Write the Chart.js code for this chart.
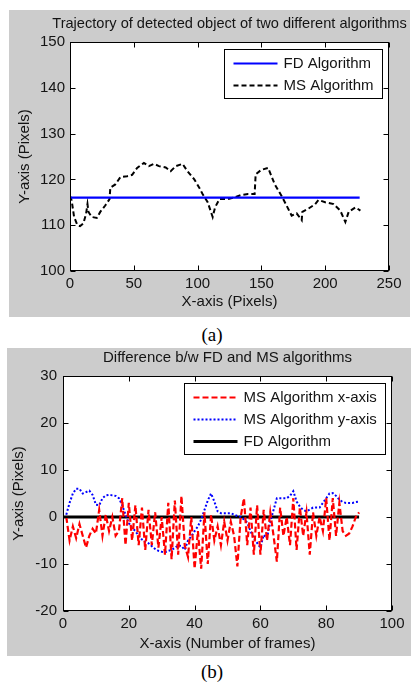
<!DOCTYPE html>
<html><head><meta charset="utf-8">
<script src="https://cdn.jsdelivr.net/npm/chart.js@4.4.1/dist/chart.umd.min.js"></script>
<style>
html,body{margin:0;padding:0;background:#fff;width:411px;height:682px;overflow:hidden;}
.panel{position:absolute;background:#cccccc;}
.panel canvas{display:block;}
.cap{position:absolute;font-family:"Liberation Serif","Times New Roman",serif;font-size:19px;color:#000;width:60px;text-align:center;line-height:22px;}
</style></head><body>
<div class="panel" style="left:9px;top:10px;width:401px;height:307px"><canvas id="c1" width="401" height="307"></canvas></div>
<div class="cap" style="left:182px;top:324px">(a)</div>
<div class="panel" style="left:7px;top:348px;width:404px;height:308px"><canvas id="c2" width="404" height="308"></canvas></div>
<div class="cap" style="left:182px;top:661px">(b)</div>
<script>
// ---------- Chart (a): trajectory ----------
const titleA = "Trajectory of detected object of two different algorithms";
const fdX = [0, 227];
const fdY = [116, 116];
const msX = [0, 1.3, 3.2, 5.8, 7.9, 10.5, 12.6, 13.7, 14.5, 17, 21, 23.7, 27.6, 31, 31.6, 35.5, 39.5, 44.7, 48.7, 52.6, 57.9, 61.8, 65.8, 69.7, 75, 78.9, 82.9, 88.2, 92, 97.4, 101.3, 103.9, 107.9, 111.8, 113.7, 117.1, 123.7, 128.9, 134.2, 139.5, 144.7, 145.5, 150, 155.3, 160.5, 165.8, 169.7, 173.7, 177.6, 181.6, 182.1, 186.8, 192.1, 194.7, 200, 206.6, 211.8, 215.8, 218.4, 223.7, 227.6];
const msY = [116.4, 115.4, 111.8, 110, 109.8, 110.4, 112.5, 114.6, 112.9, 111.8, 111.6, 112.9, 114.3, 115.7, 118.2, 118.9, 120.5, 120.7, 121, 122.5, 123.6, 122.9, 123.4, 122.9, 122.6, 121.8, 122.9, 123.4, 121.8, 120, 118.2, 116.8, 115, 111.8, 113.9, 115.7, 115.7, 116.1, 116.6, 116.8, 116.8, 121.1, 122.1, 122.5, 118.9, 116.4, 114.3, 112.1, 112.6, 111.1, 112.9, 113.6, 114.6, 115.5, 115, 114.6, 113.2, 110.7, 112.9, 113.9, 113.2];
const xTicksA = [0, 50, 100, 150, 200, 250];
const yTicksA = [100, 110, 120, 130, 140, 150];

// ---------- Chart (b): difference ----------
const titleB = "Difference b/w FD and MS algorithms";
const frames = [1,2,3,4,5,6,7,8,9,10,11,12,13,14,15,16,17,18,19,20,21,22,23,24,25,26,27,28,29,30,31,32,33,34,35,36,37,38,39,40,41,42,43,44,45,46,47,48,49,50,51,52,53,54,55,56,57,58,59,60,61,62,63,64,65,66,67,68,69,70,71,72,73,74,75,76,77,78,79,80,81,82,83,84,85,86,87,88,89,90];
const msXDiff = [0,-5,-2,-4.5,-1.5,-4,-6.5,-4,-2.5,-3.5,1.5,-4,0.5,-3,0,-4,-3,4,-6,3,-5,2.5,-6,2,-7,1.5,-6,1,-6.5,0,-8,3,-9,3.5,-8,4.5,-6,-8.5,0,-11,-3,-11,1,-10,0.5,-5,-2,-6,-1,-5,-1,-4,-10.5,0,4,-6,2,-8,2.5,-8,1.5,-5,1,-4,-9.5,2,-4,0,-6,4,-7,2,-4,1,-8,1,-4,0,-3,4,-5,4,-4,3,-3,-4,-3.5,-2,0,1];
const msYDiff = [0.5,3,5,6,6,5,5.3,5.6,4.7,2.6,2.5,4,4.6,4.7,4.6,4.5,4,2.5,0.5,-1.3,-2.3,-3,-4,-4.8,-5.3,-5.6,-6.2,-6.8,-7.2,-7.4,-7.5,-7.2,-7,-6.6,-6,-6.2,-7,-5,-4.1,-3,-2,-0.5,1.5,3.5,5,3.3,1.2,0.8,0.8,0.8,0.8,0.5,0.2,0,-0.5,-1.2,-3,-4.5,-5.5,-6.5,-3.8,-4.5,-1,1.5,4,4,4,4,4.5,5.5,3.3,2.2,1.5,1.2,1.6,2,2,2,3,4,5,5.1,4.5,3.7,3.2,3,3,3,3.2,3.3];
const fdFrames = [0, 90];
const fdDiff = [0, 0];
const xTicksB = [0, 20, 40, 60, 80, 100];
const yTicksB = [-20, -10, 0, 10, 20, 30];

const FONT = '"Liberation Sans", Arial, Helvetica, sans-serif';
const TXT = '#141414';

function pts(xs, ys) { return xs.map((x, i) => ({x: x, y: ys[i]})); }

// MATLAB-style axes box, inward ticks, title and boxed legend
const matlabAxes = {
  id: 'matlabAxes',
  beforeDatasetsDraw(chart) {
    const {ctx, chartArea: a} = chart;
    ctx.save();
    ctx.fillStyle = '#ffffff';
    ctx.fillRect(a.left, a.top, a.right - a.left, a.bottom - a.top);
    ctx.restore();
  },
  afterDraw(chart, args, o) {
    const {ctx, chartArea: a, scales} = chart;
    ctx.save();
    ctx.strokeStyle = '#000';
    ctx.lineWidth = 1;
    const L = Math.round(a.left) + 0.5, R = Math.round(a.right) - 0.5;
    const T = Math.round(a.top) + 0.5, B = Math.round(a.bottom) - 0.5;
    ctx.strokeRect(L, T, R - L, B - T);
    const tl = 5;
    ctx.beginPath();
    scales.x.ticks.forEach(t => {
      const p = Math.round(scales.x.getPixelForValue(t.value)) + 0.5;
      ctx.moveTo(p, B); ctx.lineTo(p, B - tl);
      ctx.moveTo(p, T); ctx.lineTo(p, T + tl);
    });
    scales.y.ticks.forEach(t => {
      const p = Math.round(scales.y.getPixelForValue(t.value)) + 0.5;
      ctx.moveTo(L, p); ctx.lineTo(L + tl, p);
      ctx.moveTo(R, p); ctx.lineTo(R - tl, p);
    });
    ctx.stroke();
    // title
    ctx.fillStyle = TXT;
    ctx.font = o.titleSize + 'px ' + FONT;
    ctx.textAlign = 'center';
    ctx.textBaseline = 'middle';
    ctx.fillText(o.title, (a.left + a.right) / 2, o.titleY);
    // legend
    ctx.font = '15px ' + FONT;
    const items = o.order.map(i => chart.data.datasets[i]);
    const maxW = Math.max(...items.map(d => ctx.measureText(d.label).width));
    const padL = 9, sample = 44, gap = 6, padR = 9, rowH = 22;
    const w = Math.round(padL + sample + gap + maxW + padR);
    const h = items.length * rowH + 5;
    const bx = Math.round(a.right - o.inset - w) + 0.5;
    const by = Math.round(a.top + o.inset) + 0.5;
    ctx.fillStyle = '#fff';
    ctx.fillRect(bx, by, w, h);
    ctx.strokeStyle = '#000';
    ctx.lineWidth = 1;
    ctx.strokeRect(bx, by, w, h);
    items.forEach((d, i) => {
      const cy = by + 14 + i * rowH;
      ctx.save();
      ctx.strokeStyle = d.borderColor;
      ctx.lineWidth = d.borderWidth;
      ctx.setLineDash(d.borderDash || []);
      ctx.beginPath();
      ctx.moveTo(bx + padL, cy);
      ctx.lineTo(bx + padL + sample, cy);
      ctx.stroke();
      ctx.restore();
      ctx.fillStyle = TXT;
      ctx.textAlign = 'left';
      ctx.textBaseline = 'middle';
      ctx.fillText(d.label, bx + padL + sample + gap, cy);
    });
    ctx.restore();
  }
};

function scaleCfg(min, max, step, ticksArr, title, titlePad, tickPad, fit) {
  return {
    type: 'linear', min: min, max: max,
    afterBuildTicks(s) { s.ticks = ticksArr.map(v => ({value: v})); },
    afterFit: fit,
    grid: {display: false, drawTicks: false},
    border: {display: false},
    ticks: {padding: tickPad, color: TXT, font: {family: FONT, size: 15}, callback: v => String(v)},
    title: {display: true, text: title, color: TXT, font: {family: FONT, size: 15}, padding: titlePad}
  };
}

new Chart(document.getElementById('c1'), {
  type: 'scatter',
  data: {datasets: [
    {label: 'FD Algorithm', data: pts(fdX, fdY), showLine: true, borderColor: '#0000ff', borderWidth: 2.2, pointRadius: 0, fill: false},
    {label: 'MS Algorithm', data: pts(msX, msY), showLine: true, borderColor: '#000000', borderWidth: 2, borderDash: [5, 3], pointRadius: 0, fill: false}
  ]},
  options: {
    responsive: false, animation: false, devicePixelRatio: 1,
    layout: {padding: {left: 0, right: 21, top: 32, bottom: 0}},
    plugins: {legend: {display: false}, tooltip: {enabled: false},
      matlabAxes: {title: titleA, titleSize: 14.6, titleY: 14, order: [0, 1], inset: 7}},
    scales: {
      x: scaleCfg(0, 250, 50, xTicksA, 'X-axis (Pixels)', {top: 0, bottom: 6}, 4, s => { s.height = 46; }),
      y: scaleCfg(100, 150, 10, yTicksA, 'Y-axis (Pixels)', {top: 7, bottom: 0}, 5, s => { s.width = 61; })
    }
  },
  plugins: [matlabAxes]
});

new Chart(document.getElementById('c2'), {
  type: 'scatter',
  data: {datasets: [
    {label: 'MS Algorithm x-axis', data: pts(frames, msXDiff), showLine: true, borderColor: '#ff0000', borderWidth: 2.2, borderDash: [6, 3], pointRadius: 0, fill: false},
    {label: 'MS Algorithm y-axis', data: pts(frames, msYDiff), showLine: true, borderColor: '#0000ff', borderWidth: 2, borderDash: [2, 2], pointRadius: 0, fill: false},
    {label: 'FD Algorithm', data: pts(fdFrames, fdDiff), showLine: true, borderColor: '#000000', borderWidth: 3, pointRadius: 0, fill: false}
  ]},
  options: {
    responsive: false, animation: false, devicePixelRatio: 1,
    layout: {padding: {left: 0, right: 19, top: 28, bottom: 0}},
    plugins: {legend: {display: false}, tooltip: {enabled: false},
      matlabAxes: {title: titleB, titleSize: 15, titleY: 10, order: [0, 1, 2], inset: 7}},
    scales: {
      x: scaleCfg(0, 100, 20, xTicksB, 'X-axis (Number of frames)', {top: 0, bottom: 3}, 4, s => { s.height = 45; }),
      y: scaleCfg(-20, 30, 10, yTicksB, 'Y-axis (Pixels)', {top: 3, bottom: 0}, 6, s => { s.width = 56; })
    }
  },
  plugins: [matlabAxes]
});
</script>
</body></html>
